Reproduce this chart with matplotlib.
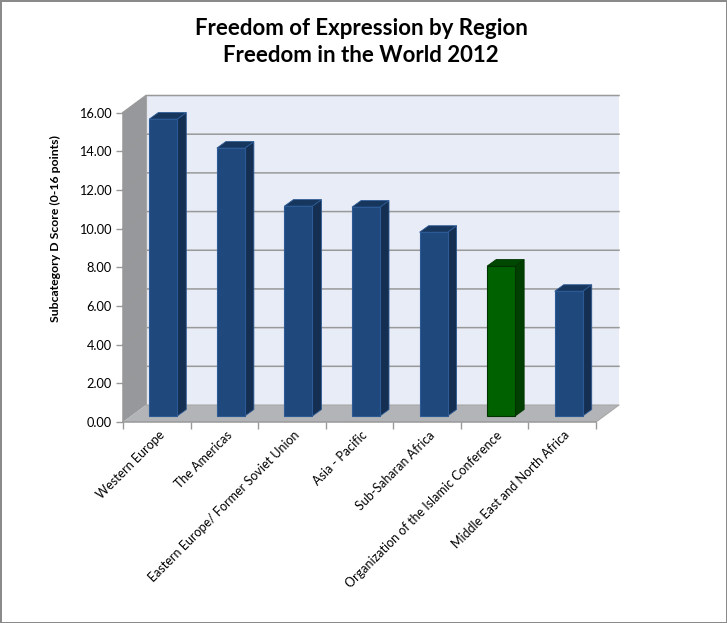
import matplotlib
matplotlib.use('Agg')
import matplotlib.pyplot as plt
from matplotlib.patches import Polygon
import numpy as np

regions = ['Western Europe', 'The Americas', 'Eastern Europe/ Former Soviet Union',
           'Asia - Pacific', 'Sub-Saharan Africa', 'Organization of the Islamic Conference',
           'Middle East and North Africa']
scores = [15.35, 13.85, 10.85, 10.8, 9.5, 7.75, 6.45]
y_ticks = [0, 2, 4, 6, 8, 10, 12, 14, 16]

BLUE = ('#1f497d', '#142f52', '#17365d')
GREEN = ('#006100', '#003f00', '#004800')

W, H = 727, 623
plt.rcParams['font.family'] = ['Lato', 'DejaVu Sans']

fig = plt.figure(figsize=(W / 100, H / 100), dpi=100)
# front plane of the fake 3d box, in pixels
left, right, top, bottom = 123, 596, 112.5, 422
ax = fig.add_axes([left / W, 1 - bottom / H, (right - left) / W, (bottom - top) / H])
ax.set_xlim(0, 7)
ax.set_ylim(0, 16)
ax.patch.set_visible(False)

ux = (right - left) / 7
uy = (bottom - top) / 16
box_dx, box_dy = 23 / ux, 17 / uy
bar_dx, bar_dy = 9 / ux, 6.5 / uy
shift_x, shift_y = 6.5 / ux, 6 / uy
bar_w = 28 / ux

def poly(pts, fc, ec='none', lw=0, z=1):
    ax.add_patch(Polygon(pts, closed=True, facecolor=fc, edgecolor=ec, linewidth=lw,
                         zorder=z, clip_on=False))

# walls
poly([(box_dx, box_dy), (7 + box_dx, box_dy), (7 + box_dx, 16 + box_dy), (box_dx, 16 + box_dy)], '#e8ecf6')
poly([(0, 0), (box_dx, box_dy), (box_dx, 16 + box_dy), (0, 16)], '#97989c')
poly([(0, 0), (7, 0), (7 + box_dx, box_dy), (box_dx, box_dy)], '#b2b4b8')

# gridlines run along the back wall and down the side wall
for v in y_ticks[1:]:
    ax.plot([0, box_dx, 7 + box_dx], [v, v + box_dy, v + box_dy], color='#999999', lw=1.1,
            zorder=2, clip_on=False)
ax.plot([box_dx, box_dx], [box_dy, 16 + box_dy], color='#a5a5a5', lw=0.8, zorder=2, clip_on=False)
ax.plot([box_dx, 7 + box_dx, 7], [box_dy, box_dy, 0], color='#a8a8a8', lw=0.8, zorder=2, clip_on=False)

# bars
for i, val in enumerate(scores):
    front, side, cap = GREEN if i == 5 else BLUE
    x0 = i + 0.5 - bar_w / 2 + shift_x
    x1 = x0 + bar_w
    edge = '#003300' if i == 5 else '#2c5a94'
    z = 3 + i
    poly([(x1, shift_y), (x1 + bar_dx, shift_y + bar_dy), (x1 + bar_dx, val + shift_y + bar_dy),
          (x1, val + shift_y)], side, edge, 0.6, z)
    poly([(x0, val + shift_y), (x1, val + shift_y), (x1 + bar_dx, val + shift_y + bar_dy),
          (x0 + bar_dx, val + shift_y + bar_dy)], cap, edge, 0.6, z)
    poly([(x0, shift_y), (x1, shift_y), (x1, val + shift_y), (x0, val + shift_y)], front, edge, 0.8, z)

for s in ['top', 'right']:
    ax.spines[s].set_visible(False)
for s in ['left', 'bottom']:
    ax.spines[s].set_color('#999999')
    ax.spines[s].set_linewidth(1.1)
    ax.spines[s].set_zorder(2)

ax.set_yticks(y_ticks)
ax.set_yticklabels(['%.2f' % v for v in y_ticks], fontsize=9.2, color='black')
ax.set_xticks(np.arange(8))
ax.set_xticklabels([])
ax.tick_params(axis='both', color='#999999', length=5, width=1, pad=3)

for i, name in enumerate(regions):
    ax.annotate(name, (i + 0.5, 0), xytext=(1, -5), textcoords='offset points', rotation=45,
                ha='right', va='top', rotation_mode='anchor', fontsize=9)

fig.text(61 / W, 1 - 229 / H, 'Subcategory D Score (0-16 points)', rotation=90, ha='right', va='center',
         fontsize=8.8, fontweight='bold')
fig.text(361 / W, 1 - 42 / H, 'Freedom of Expression by Region\nFreedom in the World 2012', ha='center',
         va='center', fontsize=16, fontweight='bold', linespacing=1.4)

fig.patch.set_linewidth(1)
fig.savefig('out.png', dpi=100, facecolor='white', edgecolor='#8a8a8a')
